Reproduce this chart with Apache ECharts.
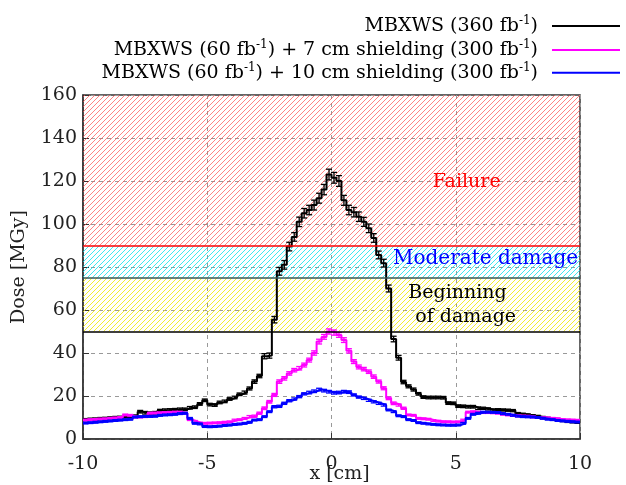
<!DOCTYPE html>
<html>
<head>
<meta charset="utf-8">
<script src="https://cdn.jsdelivr.net/npm/echarts@6/dist/echarts.min.js"></script>
<style>html,body{margin:0;padding:0;background:#fff}#c{width:626px;height:485px}</style>
</head>
<body>
<div id="c"></div>
<script>
// ---- data ----
const seriesNames = [
  'MBXWS (360 fb-1)',
  'MBXWS (60 fb-1) + 7 cm shielding (300 fb-1)',
  'MBXWS (60 fb-1) + 10 cm shielding (300 fb-1)'
];
const binStart = -10, binWidth = 0.2, binCount = 100;
const xTicks = [-10, -5, 0, 5, 10];
const yTicks = [0, 20, 40, 60, 80, 100, 120, 140, 160];

const dose360 = [
  9.0, 9.2, 9.3, 9.5, 9.6, 9.8, 10.0, 10.1, 10.3, 10.4,
  10.6, 12.7, 12.2, 12.0, 12.2, 13.2, 13.4, 13.5, 13.6, 13.8,
  13.8, 14.5, 14.8, 16.3, 18.0, 16.0, 15.8, 17.0, 17.5, 18.6,
  19.3, 20.8, 21.6, 23.5, 26.7, 29.3, 38.5, 38.8, 55.5, 78.0,
  81.0, 89.5, 94.0, 101.0, 105.0, 106.5, 108.8, 112.0, 116.0, 123.0,
  121.5, 120.0, 111.0, 106.5, 105.5, 103.4, 101.0, 98.0, 93.5, 85.6,
  81.8, 70.0, 46.5, 37.8, 26.5, 24.5, 23.0, 21.0, 19.5, 19.3,
  19.3, 19.3, 19.2, 16.7, 16.6, 15.3, 15.2, 15.0, 15.0, 14.3,
  14.3, 14.0, 13.5, 13.6, 13.5, 13.4, 13.2, 11.8, 11.5, 11.2,
  10.8, 10.5, 10.0, 9.6, 9.3, 9.0, 8.6, 8.2, 8.0, 7.8
];
const err360 = [
  0.5, 0.5, 0.5, 0.5, 0.5, 0.5, 0.5, 0.5, 0.5, 0.5,
  0.6, 0.6, 0.6, 0.6, 0.6, 0.6, 0.6, 0.6, 0.6, 0.6,
  0.6, 0.6, 0.6, 0.6, 0.6, 0.6, 0.6, 0.6, 0.6, 0.6,
  0.6, 0.6, 0.7, 0.7, 0.8, 0.8, 1.2, 1.2, 1.5, 1.8,
  2.0, 2.0, 2.0, 2.2, 2.2, 2.2, 2.3, 2.3, 2.4, 2.5,
  2.5, 2.5, 2.3, 2.2, 2.2, 2.2, 2.1, 2.0, 2.0, 1.8,
  1.8, 1.6, 1.3, 1.1, 0.8, 0.7, 0.7, 0.6, 0.6, 0.6,
  0.6, 0.6, 0.6, 0.6, 0.6, 0.6, 0.6, 0.6, 0.6, 0.6,
  0.5, 0.5, 0.5, 0.5, 0.5, 0.5, 0.5, 0.5, 0.5, 0.5,
  0.5, 0.5, 0.5, 0.5, 0.5, 0.5, 0.5, 0.5, 0.5, 0.5
];
const dose7cm = [
  8.8, 9.0, 9.1, 9.3, 9.4, 9.6, 9.8, 10.0, 11.2, 11.0,
  10.2, 10.2, 10.4, 12.0, 12.1, 12.2, 12.3, 12.4, 12.5, 12.5,
  12.0, 9.0, 8.2, 7.4, 7.3, 7.4, 7.5, 7.6, 7.8, 8.0,
  8.8, 9.0, 9.6, 10.4, 10.6, 12.0, 14.3, 17.3, 20.5, 26.7,
  28.2, 30.5, 32.0, 32.9, 34.4, 36.7, 40.0, 45.3, 47.5, 50.0,
  49.5, 48.4, 46.0, 41.0, 36.0, 33.5, 32.5, 31.3, 29.0, 26.7,
  23.6, 18.9, 16.6, 15.8, 14.3, 11.2, 11.0, 9.6, 9.4, 9.2,
  8.6, 8.3, 8.0, 8.0, 7.9, 8.0, 8.8, 12.5, 12.7, 12.5,
  12.3, 12.3, 12.2, 12.0, 11.5, 11.2, 11.0, 10.8, 10.7, 10.6,
  10.3, 10.0, 9.9, 9.8, 9.6, 9.4, 9.0, 8.9, 8.8, 8.7
];
const err7cm = [
  0.4, 0.4, 0.4, 0.4, 0.4, 0.4, 0.4, 0.4, 0.4, 0.4,
  0.4, 0.4, 0.4, 0.4, 0.4, 0.4, 0.4, 0.4, 0.4, 0.4,
  0.4, 0.4, 0.4, 0.4, 0.4, 0.4, 0.4, 0.4, 0.4, 0.4,
  0.4, 0.4, 0.4, 0.5, 0.5, 0.5, 0.6, 0.6, 0.7, 0.8,
  0.8, 0.8, 0.8, 0.8, 0.9, 0.9, 1.0, 1.1, 1.1, 1.2,
  1.2, 1.1, 1.1, 1.0, 0.9, 0.9, 0.8, 0.8, 0.8, 0.7,
  0.7, 0.6, 0.6, 0.5, 0.5, 0.4, 0.4, 0.4, 0.4, 0.4,
  0.4, 0.4, 0.4, 0.4, 0.4, 0.4, 0.4, 0.4, 0.4, 0.4,
  0.4, 0.4, 0.4, 0.4, 0.4, 0.4, 0.4, 0.4, 0.4, 0.4,
  0.4, 0.4, 0.4, 0.4, 0.4, 0.4, 0.4, 0.4, 0.4, 0.4
];
const dose10cm = [
  7.4, 7.6, 7.8, 8.0, 8.2, 8.4, 8.6, 8.8, 9.0, 9.2,
  10.2, 10.4, 10.5, 10.5, 10.6, 11.0, 11.2, 11.3, 11.5, 11.8,
  12.0, 9.6, 7.3, 7.0, 5.8, 5.7, 5.8, 6.0, 6.3, 6.5,
  6.8, 7.0, 7.3, 7.8, 8.8, 9.0, 10.4, 12.7, 15.0, 15.2,
  16.6, 17.8, 18.6, 19.7, 21.0, 21.6, 22.2, 23.0, 22.5, 22.0,
  21.5, 21.6, 22.0, 21.8, 20.5, 19.5, 18.9, 18.0, 17.3, 16.6,
  15.8, 13.5, 12.7, 10.8, 10.4, 9.0, 8.6, 7.6, 7.3, 7.0,
  6.8, 6.6, 6.5, 6.4, 6.4, 6.5, 7.3, 9.6, 11.5, 12.0,
  12.5, 12.5, 12.4, 12.3, 11.8, 11.5, 11.0, 10.6, 10.4, 10.3,
  10.2, 10.0, 9.6, 9.2, 9.0, 8.6, 8.4, 8.2, 8.0, 7.9
];
const err10cm = [
  0.4, 0.4, 0.4, 0.4, 0.4, 0.4, 0.4, 0.4, 0.4, 0.4,
  0.4, 0.4, 0.4, 0.4, 0.4, 0.4, 0.4, 0.4, 0.4, 0.4,
  0.4, 0.4, 0.4, 0.4, 0.4, 0.4, 0.4, 0.4, 0.4, 0.4,
  0.4, 0.4, 0.4, 0.4, 0.4, 0.4, 0.4, 0.4, 0.5, 0.5,
  0.5, 0.5, 0.5, 0.5, 0.5, 0.6, 0.6, 0.6, 0.6, 0.6,
  0.6, 0.6, 0.6, 0.6, 0.5, 0.5, 0.5, 0.5, 0.5, 0.5,
  0.5, 0.4, 0.4, 0.4, 0.4, 0.4, 0.4, 0.4, 0.4, 0.4,
  0.4, 0.4, 0.4, 0.4, 0.4, 0.4, 0.4, 0.4, 0.4, 0.4,
  0.4, 0.4, 0.4, 0.4, 0.4, 0.4, 0.4, 0.4, 0.4, 0.4,
  0.4, 0.4, 0.4, 0.4, 0.4, 0.4, 0.4, 0.4, 0.4, 0.4
];
// damage zones [from, to]
const zoneFailure = [90, 160];
const zoneModerate = [75, 90];
const zoneBeginning = [50, 75];
const zoneLabels = ['Failure', 'Moderate damage', 'Beginning', 'of damage'];
const zoneLabelPos = [[5.44, 119.7], [6.2, 84.0], [5.07, 67.8], [5.4, 56.6]];

// ---- build ----
const FONT = 'DejaVu Serif';
const binEdges = Array.from({length: binCount + 1}, (_, i) => +(binStart + binWidth * i).toFixed(2));
function stepData(vals) {
  const d = vals.map((v, i) => [binEdges[i], v]);
  d.push([binEdges[binCount], vals[binCount - 1]]);
  return d;
}
function errData(vals, errs) {
  return vals.map((v, i) => [(binEdges[i] + binEdges[i + 1]) / 2, v, errs[i]]);
}
function hatch(color) {
  const c = document.createElement('canvas');
  c.width = 5; c.height = 5;
  const ctx = c.getContext('2d');
  ctx.strokeStyle = color; ctx.lineWidth = 0.9;
  ctx.beginPath();
  ctx.moveTo(0, 5); ctx.lineTo(5, 0);
  ctx.moveTo(-1, 1); ctx.lineTo(1, -1);
  ctx.moveTo(4, 6); ctx.lineTo(6, 4);
  ctx.stroke();
  return {image: c, repeat: 'repeat'};
}
const colors = ['#000000', '#ff00ff', '#0000ff'];
const vals = [dose360, dose7cm, dose10cm];
const errs = [err360, err7cm, err10cm];

function errSeries(k) {
  return {
    type: 'custom', z: 3 + k, silent: true, clip: true,
    data: errData(vals[k], errs[k]),
    renderItem: function (params, api) {
      const x = api.value(0), y = api.value(1), e = api.value(2);
      const t = api.coord([x, y + e]), b = api.coord([x, y - e]);
      const hw = 3, st = {stroke: colors[k], lineWidth: 1.3};
      return {type: 'group', children: [
        {type: 'line', shape: {x1: t[0], y1: t[1], x2: b[0], y2: b[1]}, style: st},
        {type: 'line', shape: {x1: t[0] - hw, y1: t[1], x2: t[0] + hw, y2: t[1]}, style: st},
        {type: 'line', shape: {x1: b[0] - hw, y1: b[1], x2: b[0] + hw, y2: b[1]}, style: st}
      ]};
    }
  };
}
function legendFmt(name) {
  return '{t|' + name.replace(/fb-1/g, 'fb}{s|-1}{t|') + '}{g| }';
}
const legendTops = [15, 39, 61.7];
const legends = seriesNames.map((n, k) => ({
  data: [n], orient: 'vertical', right: 6, top: legendTops[k], padding: 0,
  align: 'right', icon: 'rect', itemWidth: 68, itemHeight: 2, selectedMode: false,
  formatter: legendFmt,
  textStyle: {
    color: '#000',
    rich: {
      t: {fontFamily: FONT, fontSize: 19, lineHeight: 22, color: '#000'},
      s: {fontFamily: FONT, fontSize: 12, lineHeight: 12, verticalAlign: 'top', color: '#000'},
      g: {fontFamily: FONT, fontSize: 19, width: 9, lineHeight: 22}
    }
  }
}));

const zoneSeries = {
  type: 'line', name: 'zones', data: [], z: 1, silent: true,
  markArea: {
    silent: true,
    data: [
      [{yAxis: zoneFailure[0], itemStyle: {color: hatch('rgba(255,70,70,0.75)'), opacity: 1}}, {yAxis: zoneFailure[1]}],
      [{yAxis: zoneModerate[0], itemStyle: {color: hatch('rgba(0,225,235,0.85)'), opacity: 1}}, {yAxis: zoneModerate[1]}],
      [{yAxis: zoneBeginning[0], itemStyle: {color: hatch('rgba(240,232,0,0.9)'), opacity: 1}}, {yAxis: zoneBeginning[1]}]
    ]
  },
  markLine: {
    silent: true, symbol: 'none', label: {show: false},
    data: [
      {yAxis: zoneFailure[0], lineStyle: {color: '#ff0000', width: 1.6, type: 'solid'}},
      {yAxis: zoneModerate[0], lineStyle: {color: '#355a5a', width: 1.6, type: 'solid'}},
      {yAxis: zoneBeginning[0], lineStyle: {color: '#000000', width: 1.6, type: 'solid'}}
    ]
  },
  markPoint: {
    silent: true, symbol: 'circle', symbolSize: 0, itemStyle: {color: 'transparent'},
    data: [
      {coord: zoneLabelPos[0], label: {show: true, position: 'inside', formatter: zoneLabels[0], color: '#ff0000', fontFamily: FONT, fontSize: 19}},
      {coord: zoneLabelPos[1], label: {show: true, position: 'inside', formatter: zoneLabels[1], color: '#0000ff', fontFamily: FONT, fontSize: 20}},
      {coord: zoneLabelPos[2], label: {show: true, position: 'inside', formatter: zoneLabels[2], color: '#000', fontFamily: FONT, fontSize: 19}},
      {coord: zoneLabelPos[3], label: {show: true, position: 'inside', formatter: zoneLabels[3], color: '#000', fontFamily: FONT, fontSize: 19}}
    ]
  }
};

const lineSeries = seriesNames.map((n, k) => ({
  type: 'line', name: n, step: 'end', data: stepData(vals[k]), z: 3 + k,
  symbol: 'none', color: colors[k], lineStyle: {color: colors[k], width: 2},
  clip: true, silent: true, animation: false
}));

const chart = echarts.init(document.getElementById('c'), null, {renderer: 'canvas'});
chart.setOption({
  animation: false,
  backgroundColor: '#fff',
  legend: legends,
  grid: {left: 83, right: 46, top: 95, bottom: 46, show: true, borderColor: '#333', borderWidth: 1.5,
         containLabel: false, outerBoundsMode: 'none'},
  xAxis: {
    type: 'value', min: xTicks[0], max: xTicks[xTicks.length - 1], interval: 5,
    name: 'x [cm]', nameLocation: 'middle', nameGap: 35, nameMoveOverlap: false,
    nameTextStyle: {fontFamily: FONT, fontSize: 19, color: '#222', padding: [0, 0, 0, 16], verticalAlign: 'middle', lineHeight: 19},
    axisLine: {show: true, onZero: false, lineStyle: {color: '#333', width: 1.5}},
    axisTick: {show: true, inside: true, length: 6, lineStyle: {color: '#333'}},
    axisLabel: {fontFamily: FONT, fontSize: 19, color: '#222', margin: 16},
    splitLine: {show: true, lineStyle: {color: '#999', type: [4, 4], width: 1}}
  },
  yAxis: {
    type: 'value', min: yTicks[0], max: yTicks[yTicks.length - 1], interval: 20,
    name: 'Dose [MGy]', nameLocation: 'middle', nameGap: 54, nameMoveOverlap: false,
    nameTextStyle: {fontFamily: FONT, fontSize: 19, color: '#222'},
    axisLine: {show: true, onZero: false, lineStyle: {color: '#333', width: 1.5}},
    axisTick: {show: true, inside: true, length: 6, lineStyle: {color: '#333'}},
    axisLabel: {fontFamily: FONT, fontSize: 19, color: '#222', margin: 6},
    splitLine: {show: true, lineStyle: {color: '#999', type: [4, 4], width: 1}}
  },
  series: [zoneSeries].concat(lineSeries, [errSeries(0), errSeries(1), errSeries(2)])
});
</script>
</body>
</html>
